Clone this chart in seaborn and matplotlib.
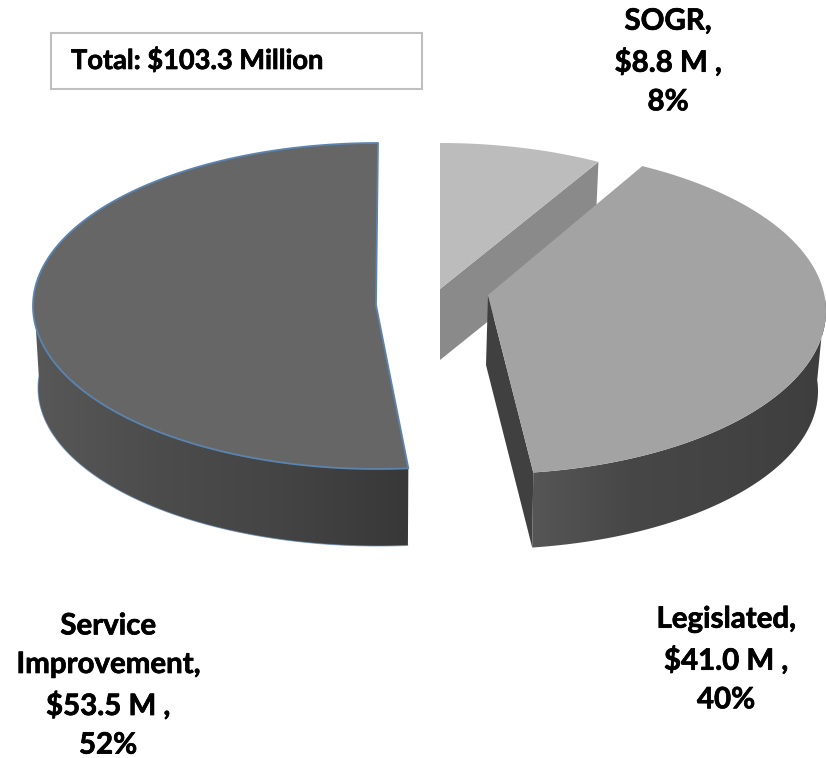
import numpy as np
import matplotlib
matplotlib.use("Agg")
import matplotlib.pyplot as plt
import matplotlib.patheffects as pe
from matplotlib.patches import Polygon, Rectangle
import seaborn as sns

# ---- data ----
categories = ["SOGR", "Legislated", "Service\nImprovement"]
values_m = [8.8, 41.0, 53.5]
percents = ["8%", "40%", "52%"]
total_label = "Total: $103.3 Million"

# ---- style ----
top_colors = ["#bcbcbc", "#a3a3a3", "#666666"]
wall_stops = [["#8a8a8a", "#8a8a8a"],
              ["#565656", "#474747", "#434343", "#3e3e3e"],
              ["#585858", "#4c4c4c", "#444444", "#383838"]]
radial_colors = ["#8a8a8a", "#404040", None]
edge_colors = ["none", "none", "#5b84b0"]

sns.set_theme(style="white")
plt.rcParams["font.family"] = ["Lato", "DejaVu Sans"]

fig = plt.figure(figsize=(8.26, 7.58), dpi=100)
ax = fig.add_axes([0, 0, 1, 1])

# layout of each exploded slice (pixel space of the view)
apex = [(440, 289), (488, 295), (376, 305)]
depth_apex = [71, 70, 70]
top_ell = [(440, 306, 339, 163), (487, 311, 339, 163), (378, 306, 345, 163)]
bot_ell = [(440, 375, 332, 158), (487, 391, 331, 158), (378, 388, 340, 158)]
angle_shift = [(0, -2.8), (-3.4, -1.4), (1.4, 0)]   # perspective correction, degrees

fractions = np.array(values_m) / sum(values_m)
edges = np.concatenate([[0], np.cumsum(fractions)]) * 360
bold = [pe.withStroke(linewidth=0.5, foreground="black")]


def rim(ell, t):
    cx, cy, a, b = ell
    r = np.radians(t)
    return np.column_stack([cx + a * np.sin(r), cy - b * np.cos(r)])


def gradient_fill(poly, stops, z):
    xs = poly[:, 0]
    ys = poly[:, 1]
    cmap = sns.blend_palette(stops, as_cmap=True)
    im = ax.imshow(np.linspace(0, 1, 256)[None, :], cmap=cmap, aspect="auto",
                   extent=[xs.min(), xs.max(), ys.max(), ys.min()], zorder=z)
    patch = Polygon(poly, closed=True, transform=ax.transData, fc="none", ec="none")
    ax.add_patch(patch)
    im.set_clip_path(patch)


for i in range(3):
    t0 = edges[i] + angle_shift[i][0]
    t1 = edges[i + 1] + angle_shift[i][1]
    z = 2 + i * 3
    ts = np.linspace(t0, t1, 240)
    top = rim(top_ell[i], ts)
    ax_apex = np.array(apex[i], float)

    # radial wall seen from the front
    if radial_colors[i] is not None:
        p_top = rim(top_ell[i], [t1])[0]
        p_bot = rim(bot_ell[i], [t1])[0]
        low_apex = ax_apex + [-2 if i == 1 else 0, depth_apex[i]]
        ax.add_patch(Polygon([ax_apex, p_top, p_bot, low_apex], closed=True,
                             fc=radial_colors[i], ec="none", zorder=z))

    # outer curved wall, visible on the front half of the rim
    lo, hi = max(t0, 86), min(t1, 274)
    if hi > lo:
        tw = np.linspace(lo, hi, 240)
        wall = np.vstack([rim(top_ell[i], tw), rim(bot_ell[i], tw)[::-1]])
        gradient_fill(wall, wall_stops[i], z)
        if edge_colors[i] != "none":
            ax.plot(*rim(bot_ell[i], tw).T, color=edge_colors[i], lw=0.8,
                    alpha=0.6, zorder=z + 0.1)

    # top face
    face = np.vstack([[ax_apex], top])
    ax.add_patch(Polygon(face, closed=True, fc=top_colors[i],
                         ec=edge_colors[i], lw=1.3, joinstyle="round", zorder=z + 1))

# total box
ax.add_patch(Rectangle((51, 33), 371, 56, fc="white", ec="#bfbfbf", lw=1.5, zorder=20))
ax.text(71, 60, total_label, fontsize=19.6, fontweight="bold", color="black",
        ha="left", va="center", zorder=21, path_effects=bold)

# data labels
label_xy = [(668, 62), (726, 660), (108, 686)]
for name, v, pct, (x, y) in zip(categories, values_m, percents, label_xy):
    ax.text(x, y, f"{name},\n${v:.1f} M ,\n{pct}", fontsize=21.2, fontweight="bold",
            color="black", ha="center", va="center", linespacing=1.6, zorder=21,
            path_effects=bold)

ax.set_xlim(0, 826)
ax.set_ylim(758, 0)
ax.axis("off")
fig.savefig("out.png", dpi=100, facecolor="white")
